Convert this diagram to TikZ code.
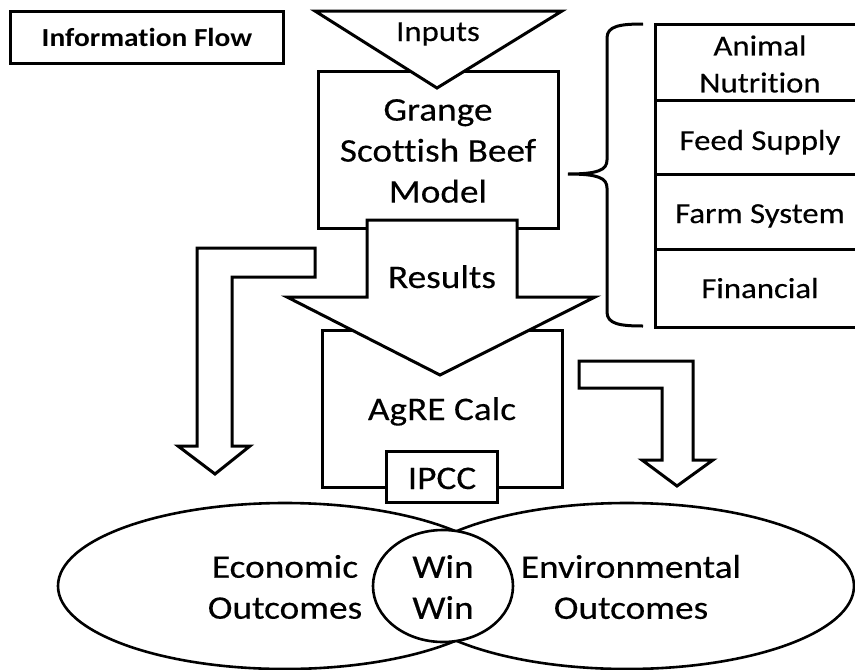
\documentclass[tikz,border=0pt]{standalone}
\usepackage{fontspec}
\setmainfont{Carlito}[FakeStretch=1.13,FakeBold=0.3,Ligatures=NoCommon,BoldFeatures={FakeBold=0}]
\begin{document}
\begin{tikzpicture}[x=1pt,y=-1pt,
  shapeline/.style={draw=black,line width=3pt,fill=white,line join=miter},
  ovalline/.style={draw=black,line width=2.6pt},
  maintext/.style={font=\fontsize{33}{41}\selectfont,align=center,inner sep=0pt},
  listtext/.style={font=\fontsize{29}{37}\selectfont,align=center,inner sep=0pt},
  boldtext/.style={font=\fontsize{26}{31}\selectfont\bfseries,inner sep=0pt}]
\useasboundingbox (0,0) rectangle (855,670);
\clip (0,0) rectangle (855,670);

% Information Flow label
\draw[shapeline] (10,11) rectangle (283,63);
\node[boldtext,anchor=base] (info) at (147,46) {Information Flow};

% Grange box
\draw[shapeline] (318,71) rectangle (558,228);
% Inputs triangle
\draw[shapeline] (315,11) -- (562,11) -- (437,88) -- cycle;
\node[font=\fontsize{29}{35}\selectfont,inner sep=0pt,anchor=base] (inputs) at (438,41) {Inputs};
\node[maintext] (grange) at (438,151) {Grange\\Scottish Beef\\Model};

% AgRE box
\draw[shapeline] (322,330) rectangle (562,487);
% Results arrow
\draw[shapeline] (367,220) -- (517,220) -- (517,297) -- (595,297) -- (440,375) -- (287,297) -- (367,297) -- cycle;
\node[maintext,anchor=base] (results) at (442,288) {Results};
\node[maintext,anchor=base] (agre) at (442,420) {AgRE Calc};
\draw[shapeline] (386,451) rectangle (497,502);
\node[maintext,anchor=base] (ipcc) at (442,489) {IPCC};

% left L arrow
\draw[shapeline] (315,248) -- (197,248) -- (197,446) -- (178,446) -- (215,474) -- (250,446) -- (232,446) -- (232,277) -- (315,277) -- cycle;
% right L arrow
\draw[shapeline] (579,361) -- (693,361) -- (693,460) -- (713,460) -- (677,486) -- (642,460) -- (662,460) -- (662,388) -- (579,388) -- cycle;

% ellipses
\draw[ovalline] (285,586) ellipse [x radius=227, y radius=83];
\draw[ovalline] (627,586) ellipse [x radius=227, y radius=83];
\draw[ovalline,fill=white] (443,586) ellipse [x radius=70, y radius=56];
\node[maintext] (econ) at (285,587) {Economic\\Outcomes};
\node[maintext] (env) at (631,587) {Environmental\\Outcomes};
\node[maintext] (win) at (443,587) {Win\\Win};

% brace
\draw[line width=3pt] (643,24) .. controls (620,24) and (607,26) .. (607,38) -- (607,160) .. controls (607,170) and (598,174) .. (568,174) .. controls (598,174) and (607,178) .. (607,188) -- (607,312) .. controls (607,324) and (620,326) .. (643,326);

% list boxes
\draw[shapeline] (655,24) rectangle (875,327);
\draw[line width=3pt] (655,100) -- (875,100);
\draw[line width=3pt] (655,174) -- (875,174);
\draw[line width=3pt] (655,249) -- (875,249);
\node[listtext] (animal) at (760,64) {Animal\\Nutrition};
\node[listtext,anchor=base] (feed) at (760,150) {Feed Supply};
\node[listtext,anchor=base] (farm) at (760,223) {Farm System};
\node[listtext,anchor=base] (fin) at (760,298) {Financial};
\end{tikzpicture}
\end{document}
